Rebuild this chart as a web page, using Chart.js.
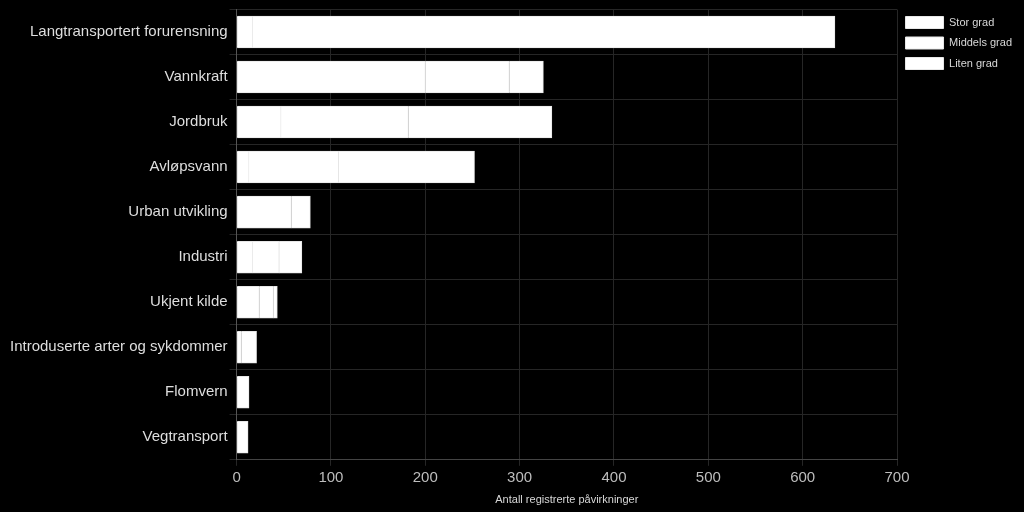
<!DOCTYPE html>
<html lang="no">
<head>
<meta charset="UTF-8" />
<title>Påvirkninger</title>
<script src="https://cdn.jsdelivr.net/npm/chart.js"></script>
<style>
  html, body { margin: 0; padding: 0; background: #000; }
  #wrap { width: 1024px; height: 512px; }
</style>
</head>
<body>
<div id="wrap"><canvas id="chart"></canvas></div>
<script>
  // kategorier og verdier (lest av bildet)
  const categories = [
    'Langtransportert forurensning', 'Vannkraft', 'Jordbruk', 'Avløpsvann',
    'Urban utvikling', 'Industri', 'Ukjent kilde',
    'Introduserte arter og sykdommer', 'Flomvern', 'Vegtransport'
  ];
  const storGrad    = [17, 200, 47, 13, 58, 17, 24, 5, 0, 0];
  const middelsGrad = [0, 89, 135, 95, 0, 28, 15, 0, 0, 0];
  const litenGrad   = [617, 36, 152, 144, 20, 24, 4, 16, 13, 12];
  const xTicks = [0, 100, 200, 300, 400, 500, 600, 700];

  Chart.defaults.font.family = '"Liberation Sans", Arial, sans-serif';
  Chart.defaults.color = '#c8c8c8';

  const bar = {
    backgroundColor: '#ffffff',
    borderColor: '#e8e8e8',
    borderWidth: 1,
    inflateAmount: 0.5,
    barPercentage: 0.70,
    categoryPercentage: 1
  };

  new Chart(document.getElementById('chart'), {
    type: 'bar',
    data: {
      labels: categories,
      datasets: [
        { label: 'Stor grad', data: storGrad, ...bar },
        { label: 'Middels grad', data: middelsGrad, ...bar },
        { label: 'Liten grad', data: litenGrad, ...bar }
      ]
    },
    options: {
      indexAxis: 'y',
      responsive: true,
      maintainAspectRatio: false,
      animation: false,
      layout: { padding: { top: 0, right: 2, left: 8, bottom: 1 } },
      plugins: {
        legend: {
          position: 'right',
          align: 'start',
          title: { display: true, text: '', font: { size: 1, lineHeight: 1 }, padding: { top: 4, bottom: 3 } },
          labels: {
            boxWidth: 38,
            boxHeight: 12,
            color: '#d8d8d8',
            font: { size: 11 },
            padding: 8.5
          }
        },
        tooltip: { enabled: false }
      },
      scales: {
        x: {
          stacked: true,
          min: 0,
          max: 700,
          afterBuildTicks: axis => { axis.ticks = xTicks.map(v => ({ value: v })); },
          grid: { color: '#262626', tickLength: 6 },
          border: { color: '#444' },
          ticks: { color: '#bdbdbd', font: { size: 15 } },
          title: {
            display: true,
            text: 'Antall registrerte påvirkninger',
            color: '#d8d8d8',
            font: { size: 11 }
          }
        },
        y: {
          stacked: true,
          grid: { color: '#262626', offset: true, tickLength: 7 },
          border: { color: '#555' },
          ticks: { color: '#dedede', font: { size: 15, lineHeight: 1 }, padding: 2 }
        }
      }
    }
  });
</script>
</body>
</html>
